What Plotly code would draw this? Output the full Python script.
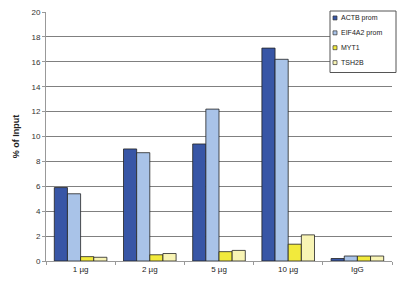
import plotly.graph_objects as go

categories = ["1 µg", "2 µg", "5 µg", "10 µg", "IgG"]
series_names = ["ACTB prom", "EIF4A2 prom", "MYT1", "TSH2B"]
actb = [5.9, 9.0, 9.4, 17.1, 0.2]
eif4a2 = [5.4, 8.7, 12.2, 16.2, 0.4]
myt1 = [0.35, 0.5, 0.75, 1.35, 0.4]
tsh2b = [0.3, 0.6, 0.85, 2.1, 0.4]
y_ticks = [0, 2, 4, 6, 8, 10, 12, 14, 16, 18, 20]

colors = ["#3856a6", "#a9c3e8", "#f2ea3c", "#f8f4b4"]
values = [actb, eif4a2, myt1, tsh2b]

W, H = 400, 283
ML, MR, MT, MB = 46, 8, 10, 22
PW, PH = W - ML - MR, H - MT - MB

def px(x):
    return (x - ML) / PW

def py(y):
    return (H - MB - y) / PH

fig = go.Figure()
for name, vals, c in zip(series_names, values, colors):
    fig.add_trace(go.Bar(x=categories, y=vals, name=name, marker_color=c,
                         marker_line_color="#222222", marker_line_width=0.8,
                         showlegend=False))

# compact legend box (drawn as paper shapes + text)
shapes = [dict(type="rect", xref="paper", yref="paper",
               x0=px(330), x1=px(396), y0=py(71), y1=py(9),
               line=dict(color="#555555", width=1), fillcolor="white", layer="above")]
annotations = []
row_y = [16, 31, 46, 61]
for name, c, ry in zip(series_names, colors, row_y):
    shapes.append(dict(type="rect", xref="paper", yref="paper",
                       x0=px(333), x1=px(337), y0=py(ry + 2), y1=py(ry - 2),
                       line=dict(color="#333333", width=0.7), fillcolor=c, layer="above"))
    annotations.append(dict(xref="paper", yref="paper", x=px(338.5), y=py(ry),
                            xanchor="left", yanchor="middle", showarrow=False,
                            text=name, font=dict(size=7, color="#222222")))

fig.update_layout(
    width=W, height=H,
    margin=dict(l=ML, r=MR, t=MT, b=MB),
    paper_bgcolor="white", plot_bgcolor="white",
    barmode="group", bargap=0.24, bargroupgap=0,
    font=dict(family="Liberation Sans, Arial, sans-serif", size=8, color="#222222"),
    showlegend=False,
    shapes=shapes, annotations=annotations,
    xaxis=dict(showline=True, linecolor="#999999", linewidth=1,
               tickson="boundaries", ticks="outside", ticklen=3, tickcolor="#999999",
               tickfont=dict(size=8, color="#222222"), showgrid=False),
    yaxis=dict(range=[0, 20], tickvals=y_ticks, showline=True, linecolor="#999999",
               linewidth=1, ticks="outside", ticklen=3, tickcolor="#999999",
               showgrid=True, gridcolor="#808080", gridwidth=1,
               tickfont=dict(size=8, color="#333333"),
               title=dict(text="<b>% of Input</b>", font=dict(size=9, color="#222222"), standoff=10)),
)

fig.write_html("out.html")
